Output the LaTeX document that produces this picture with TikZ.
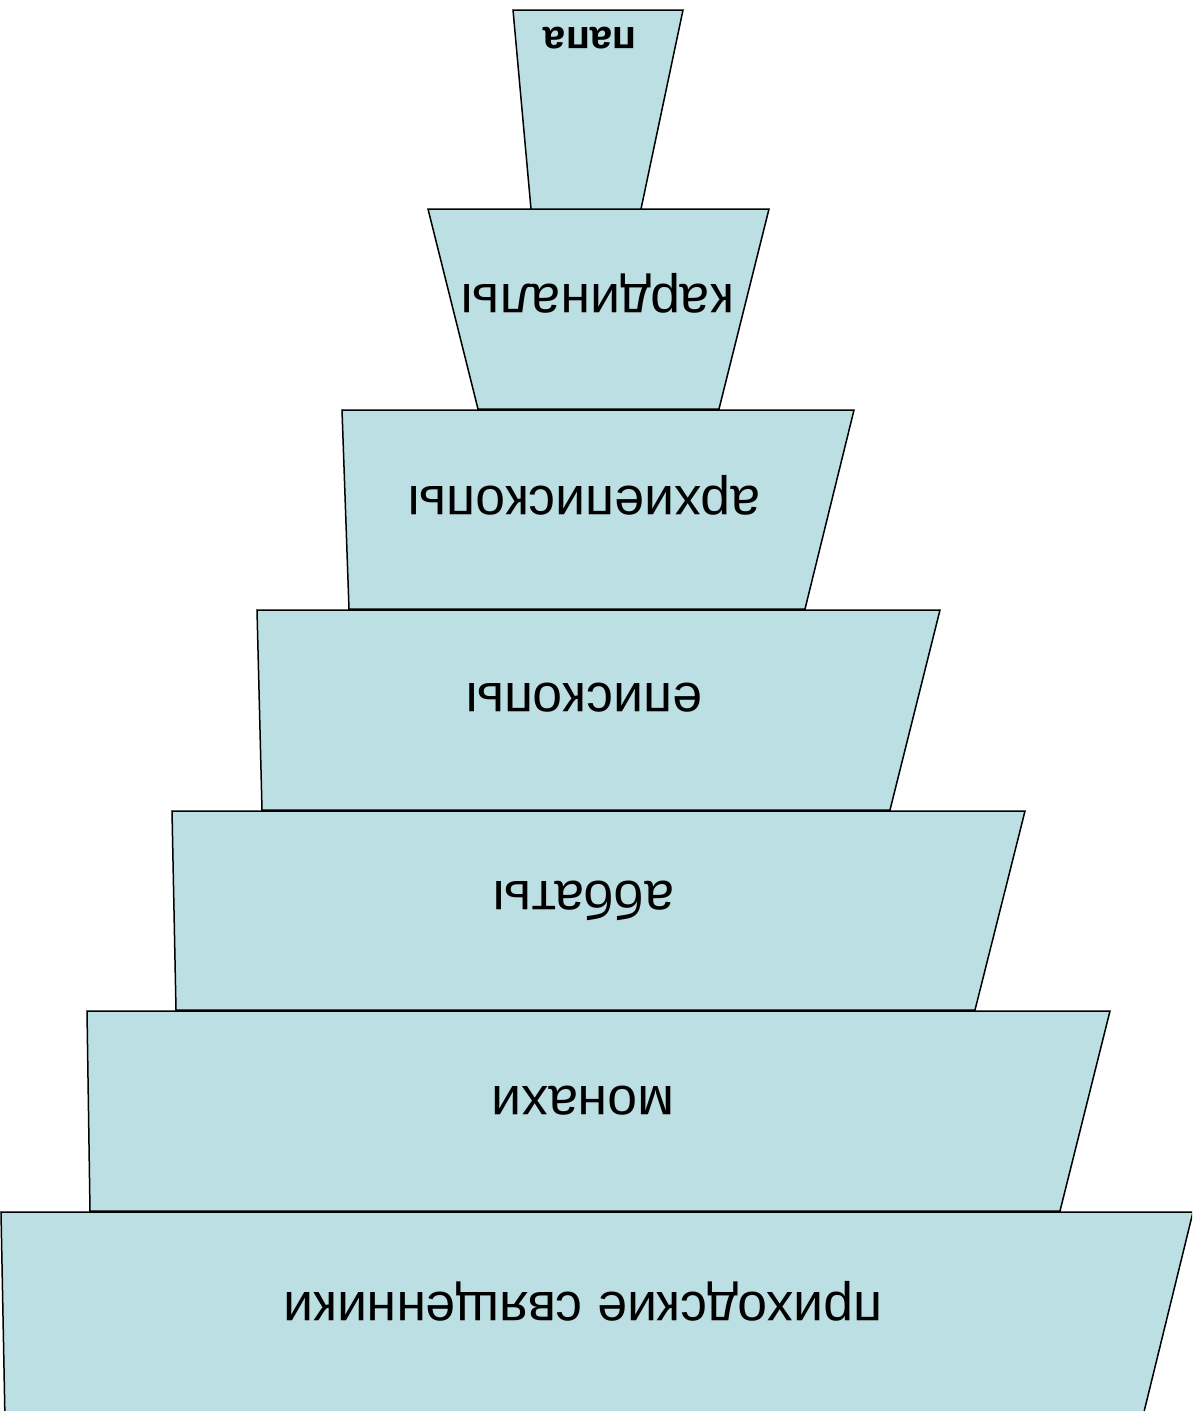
\documentclass[tikz,border=0pt]{standalone}
\usepackage{fontspec}
\setmainfont{Liberation Sans}
\definecolor{tierfill}{RGB}{187,223,226}
\begin{document}
\begin{tikzpicture}[x=1pt,y=-1pt,
  tier/.style={fill=tierfill,draw=black,line width=1.5pt,line join=miter},
  label/.style={rotate=180,font=\fontsize{53.5}{53.5}\selectfont,inner sep=0pt},
  toplabel/.style={rotate=180,font=\fontsize{40}{40}\selectfont\bfseries,inner sep=0pt}]
\useasboundingbox (0,0) rectangle (1192,1411);
\clip (0,0) rectangle (1192,1411);
% tiers, widest at the bottom
\path[tier] (1,1212) -- (1193,1212) -- (1142,1420) -- (5,1420) -- cycle;
\path[tier] (87,1011) -- (1110,1011) -- (1060,1211) -- (90,1211) -- cycle;
\path[tier] (172,811) -- (1025,811) -- (975,1010) -- (176,1010) -- cycle;
\path[tier] (257,610) -- (940,610) -- (890,810) -- (262,810) -- cycle;
\path[tier] (342,410) -- (854,410) -- (805,609) -- (349,609) -- cycle;
\path[tier] (428,209) -- (769,209) -- (719,409) -- (478,409) -- cycle;
\path[tier] (513,10) -- (683,10) -- (641,209) -- (531,209) -- cycle;
% labels
\node[toplabel] (papa) at (590,38) {папа};
\node[label] (kard) at (598,293) {кардиналы};
\node[label] (arch) at (584,495) {архиепископы};
\node[label] (episk) at (584,698) {епископы};
\node[label] (abb) at (584,901) {аббаты};
\node[label] (mon) at (583,1101) {монахи};
\node[label] (prih) at (583,1301) {приходские священники};
\end{tikzpicture}
\end{document}
